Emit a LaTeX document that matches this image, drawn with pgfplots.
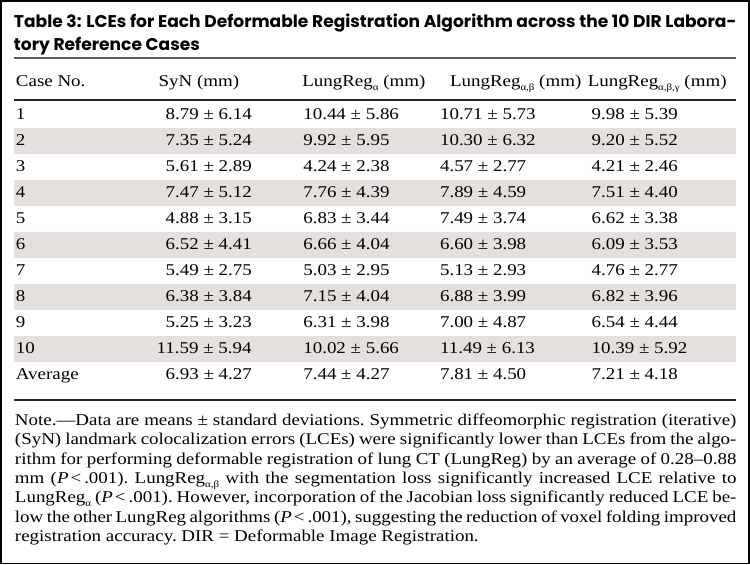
\documentclass[border=0pt]{standalone}
\usepackage{pgfplots}
\pgfplotsset{compat=1.18}
\usepackage{pgfplotstable}
\usepackage{fontspec}
\setmainfont{Liberation Serif}[FakeStretch=1.15]
\newfontfamily\titlefont{Poppins}[FakeStretch=0.86]
\definecolor{band}{RGB}{229,223,221}
\definecolor{rulegray}{RGB}{95,95,95}
\newcommand\bodyfont{\frenchspacing\fontsize{16.5}{19.3}\selectfont}
\newcommand\ttl{\titlefont\bfseries\fontsize{17}{20}\selectfont}
\newcommand\sub[1]{\raisebox{-3.6pt}{\fontsize{9.5}{9.5}\selectfont #1}}

\pgfplotstableread{
r case sm ss am as bm bs gm gs
1 1 8.79 6.14 10.44 5.86 10.71 5.73 9.98 5.39
2 2 7.35 5.24 9.92 5.95 10.30 6.32 9.20 5.52
3 3 5.61 2.89 4.24 2.38 4.57 2.77 4.21 2.46
4 4 7.47 5.12 7.76 4.39 7.89 4.59 7.51 4.40
5 5 4.88 3.15 6.83 3.44 7.49 3.74 6.62 3.38
6 6 6.52 4.41 6.66 4.04 6.60 3.98 6.09 3.53
7 7 5.49 2.75 5.03 2.95 5.13 2.93 4.76 2.77
8 8 6.38 3.84 7.15 4.04 6.88 3.99 6.82 3.96
9 9 5.25 3.23 6.31 3.98 7.00 4.87 6.54 4.44
10 10 11.59 5.94 10.02 5.66 11.49 6.13 10.39 5.92
11 Average 6.93 4.27 7.44 4.27 7.81 4.50 7.21 4.18
}\lces

\newlength\tw
\settowidth\tw{\ttl Table 3: LCEs for Each Deformable Registration Algorithm across the 10 DIR Labora-}
\pgfmathsetmacro\tratio{724pt/\tw}

\pgfplotsset{
  cell/.style={draw=none, mark=none,
    /pgf/number format/fixed, /pgf/number format/fixed zerofill,
    /pgf/number format/precision=2, /pgf/number format/assume math mode=true,
    every node near coord/.style={anchor=base west, inner sep=0pt, font=\bodyfont, text=black}},
  pm/.style 2 args={cell,
    nodes near coords={\pgfmathprintnumber{\m}\ ±\ \pgfmathprintnumber{\s}},
    visualization depends on={\thisrow{#1}\as\m},
    visualization depends on={\thisrow{#2}\as\s}},
}

\begin{document}
\begin{tikzpicture}
\begin{axis}[
  width=750pt, height=564pt, scale only axis,
  xmin=0, xmax=750, ymin=0, ymax=564, y dir=reverse,
  xtick=\empty, ytick=\empty,
  axis line style={line width=1.6pt, black},
  clip=false,
]
% shaded rows
\foreach \k in {2,4,6,8,10}{
  \edef\tmp{\noexpand\fill[band] (axis cs:13,{114.5+26*(\k-1)-13}) rectangle (axis cs:737,{114.5+26*(\k-1)+13});}
  \tmp
}
% title
\node[anchor=base west, inner sep=0pt] at (axis cs:13,26.5) {\scalebox{\tratio}[1]{\ttl Table 3: LCEs for Each Deformable Registration Algorithm across the 10 DIR Labora-}};
\node[anchor=base west, inner sep=0pt] at (axis cs:13,49.5) {\scalebox{\tratio}[1]{\ttl tory Reference Cases}};
% rules
\draw[rulegray, line width=1.3pt] (axis cs:13,57.3) -- (axis cs:737,57.3);
\draw[black!85, line width=1.5pt] (axis cs:13,99.3) -- (axis cs:737,99.3);
\draw[black!85, line width=1.5pt] (axis cs:13,400) -- (axis cs:737,400);
% header
\node[anchor=base west, inner sep=0pt, font=\bodyfont] at (axis cs:15,86) {Case No.};
\node[anchor=base west, inner sep=0pt, font=\bodyfont] at (axis cs:158,86) {SyN (mm)};
\node[anchor=base west, inner sep=0pt, font=\bodyfont] at (axis cs:302,86) {LungReg\sub{α} (mm)};
\node[anchor=base west, inner sep=0pt, font=\bodyfont] at (axis cs:450,86) {LungReg\sub{α,β} (mm)};
\node[anchor=base west, inner sep=0pt, font=\bodyfont] at (axis cs:588,86) {LungReg\sub{α,β,γ} (mm)};
% case column
\addplot[cell, point meta=explicit symbolic, nodes near coords]
  table[x expr=15, y expr={119+26*(\thisrow{r}-1)}, meta=case]{\lces};
% SyN
\addplot[pm={sm}{ss}]
  table[x expr={165-9*(\thisrow{sm}>=10)}, y expr={119+26*(\thisrow{r}-1)}]{\lces};
% LungReg alpha
\addplot[pm={am}{as}]
  table[x expr=303, y expr={119+26*(\thisrow{r}-1)}]{\lces};
% LungReg alpha beta
\addplot[pm={bm}{bs}]
  table[x expr=440, y expr={119+26*(\thisrow{r}-1)}]{\lces};
% LungReg alpha beta gamma
\addplot[pm={gm}{gs}]
  table[x expr=592, y expr={119+26*(\thisrow{r}-1)}]{\lces};
% note
\node[anchor=north west, inner sep=0pt, font=\bodyfont, align=left] at (axis cs:14,414) {%
\makebox[723pt][s]{Note.—Data are means ± standard deviations. Symmetric diffeomorphic registration (iterative)}\\
\makebox[723pt][s]{(SyN) landmark colocalization errors (LCEs) were significantly lower than LCEs from the algo-}\\
\makebox[723pt][s]{rithm for performing deformable registration of lung CT (LungReg) by an average of 0.28–0.88}\\
\makebox[723pt][s]{mm (\textit{P}\kern2pt<\kern3pt.001). LungReg\sub{α,β} with the segmentation loss significantly increased LCE relative to}\\
\makebox[723pt][s]{LungReg\sub{α} (\textit{P}\kern2pt<\kern3pt.001). However, incorporation of the Jacobian loss significantly reduced LCE be-}\\
\makebox[723pt][s]{low the other LungReg algorithms (\textit{P}\kern2pt<\kern3pt.001), suggesting the reduction of voxel folding improved}\\
registration accuracy. DIR = Deformable Image Registration.};
\end{axis}
\end{tikzpicture}
\end{document}
